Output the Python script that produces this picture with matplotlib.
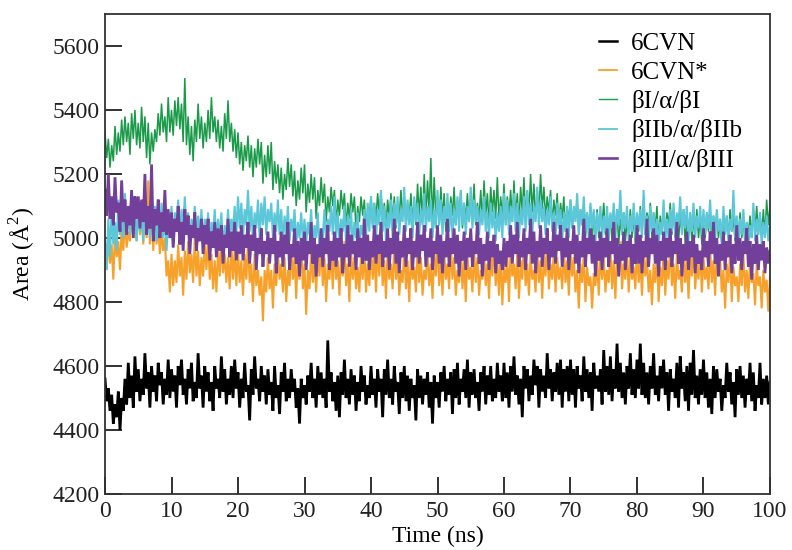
import numpy as np
import matplotlib
matplotlib.use("Agg")
import matplotlib.pyplot as plt

# area time series, one frame every 0.25 ns (0 .. 100 ns)
area_6cvn = [
    4560, 4490, 4530, 4460, 4510, 4420, 4480, 4440, 4520, 4400, 4500, 4460, 4560, 4480, 4610, 4500, 4570, 4470, 4630, 4520,
    4590, 4490, 4560, 4510, 4640, 4530, 4580, 4470, 4600, 4520, 4570, 4490, 4610, 4540, 4580, 4480, 4560, 4510, 4620, 4500,
    4590, 4520, 4570, 4470, 4600, 4540, 4620, 4510, 4560, 4480, 4590, 4530, 4610, 4490, 4550, 4500, 4640, 4530, 4570, 4470,
    4600, 4520, 4580, 4490, 4550, 4460, 4600, 4530, 4560, 4500, 4630, 4520, 4590, 4480, 4560, 4510, 4600, 4500, 4620, 4530,
    4580, 4470, 4560, 4500, 4610, 4520, 4540, 4430, 4590, 4510, 4630, 4530, 4560, 4490, 4600, 4520, 4570, 4480, 4590, 4510,
    4550, 4460, 4600, 4500, 4540, 4450, 4580, 4520, 4610, 4490, 4560, 4500, 4590, 4520, 4560, 4470, 4530, 4420, 4560, 4500,
    4540, 4480, 4570, 4520, 4610, 4500, 4560, 4470, 4600, 4510, 4580, 4500, 4560, 4470, 4680, 4520, 4580, 4490, 4550, 4460,
    4570, 4440, 4580, 4510, 4620, 4500, 4560, 4480, 4590, 4510, 4570, 4460, 4550, 4490, 4600, 4520, 4570, 4480, 4540, 4500,
    4600, 4510, 4560, 4470, 4590, 4520, 4560, 4440, 4590, 4510, 4620, 4500, 4560, 4480, 4600, 4520, 4550, 4450, 4580, 4500,
    4600, 4490, 4570, 4460, 4560, 4500, 4540, 4430, 4590, 4500, 4570, 4480, 4560, 4510, 4580, 4470, 4550, 4420, 4570, 4500,
    4550, 4470, 4580, 4520, 4600, 4490, 4560, 4510, 4580, 4450, 4590, 4500, 4610, 4480, 4560, 4520, 4590, 4500, 4620, 4470,
    4580, 4510, 4590, 4500, 4550, 4460, 4580, 4520, 4600, 4480, 4570, 4510, 4600, 4490, 4560, 4500, 4610, 4520, 4570, 4490,
    4610, 4500, 4580, 4470, 4600, 4520, 4630, 4510, 4570, 4480, 4560, 4440, 4600, 4530, 4590, 4490, 4570, 4510, 4620, 4540,
    4600, 4470, 4590, 4520, 4570, 4500, 4640, 4530, 4590, 4490, 4580, 4520, 4610, 4510, 4620, 4470, 4590, 4520, 4600, 4490,
    4620, 4510, 4590, 4470, 4600, 4530, 4570, 4490, 4630, 4520, 4590, 4500, 4580, 4460, 4610, 4530, 4570, 4520, 4590, 4480,
    4650, 4520, 4600, 4510, 4630, 4490, 4590, 4530, 4670, 4520, 4610, 4500, 4580, 4480, 4600, 4530, 4640, 4510, 4590, 4500,
    4620, 4530, 4670, 4510, 4610, 4500, 4580, 4480, 4600, 4530, 4640, 4510, 4570, 4490, 4600, 4530, 4620, 4510, 4580, 4460,
    4590, 4520, 4560, 4500, 4610, 4470, 4630, 4530, 4580, 4490, 4600, 4460, 4610, 4510, 4650, 4500, 4570, 4480, 4590, 4510,
    4620, 4500, 4580, 4470, 4560, 4450, 4600, 4500, 4590, 4520, 4560, 4460, 4540, 4500, 4610, 4520, 4580, 4480, 4550, 4440,
    4590, 4510, 4600, 4500, 4570, 4470, 4560, 4510, 4610, 4490, 4580, 4460, 4540, 4500, 4610, 4480, 4560, 4500, 4570, 4480,
    4550,
]

area_6cvn_star = [
    4960, 4900, 5010, 4920, 4980, 4870, 5020, 4940, 4990, 4900, 5030, 4960, 5060, 4970, 5020, 4990, 5080, 5000, 5050, 4990,
    5120, 5010, 5070, 4980, 5100, 5000, 5180, 4980, 5140, 4960, 5060, 4980, 5040, 4950, 5020, 4960, 5000, 4880, 4930, 4830,
    4950, 4850, 4930, 4860, 4980, 4880, 4940, 4820, 4960, 4870, 4990, 4890, 4950, 4860, 5000, 4880, 4960, 4850, 4940, 4880,
    4980, 4900, 5000, 4870, 4950, 4840, 4930, 4830, 4970, 4880, 4990, 4890, 4950, 4860, 4940, 4840, 4980, 4870, 4960, 4850,
    4960, 4860, 4930, 4820, 4950, 4870, 4990, 4860, 4920, 4800, 4950, 4850, 4900, 4820, 4880, 4740, 4900, 4830, 4940, 4840,
    4900, 4780, 4920, 4850, 4960, 4870, 4920, 4830, 4940, 4800, 4900, 4850, 4970, 4870, 4940, 4810, 4960, 4870, 4990, 4840,
    4920, 4760, 4900, 4840, 4960, 4860, 4930, 4830, 4950, 4880, 4990, 4850, 4940, 4800, 4920, 4870, 4960, 4840, 4980, 4870,
    4930, 4820, 4950, 4880, 4990, 4850, 4920, 4800, 4960, 4870, 4940, 4840, 4910, 4830, 4950, 4870, 4970, 4830, 4920, 4850,
    4970, 4870, 4950, 4830, 4980, 4880, 5000, 4850, 4930, 4810, 4960, 4870, 4920, 4840, 4980, 4870, 4940, 4820, 4900, 4860,
    4970, 4840, 4930, 4800, 4950, 4870, 4910, 4830, 4970, 4860, 4940, 4820, 4900, 4870, 4960, 4850, 4920, 4810, 4950, 4880,
    4990, 4850, 4930, 4820, 4960, 4870, 4920, 4840, 4980, 4870, 4940, 4820, 4900, 4860, 4970, 4840, 4930, 4800, 4950, 4870,
    4910, 4830, 4970, 4860, 4940, 4820, 4900, 4870, 4960, 4850, 4920, 4810, 4950, 4880, 4990, 4850, 4930, 4820, 4960, 4790,
    4910, 4860, 4940, 4800, 4970, 4880, 4920, 4840, 4960, 4810, 4930, 4870, 4990, 4850, 4920, 4820, 4950, 4870, 4900, 4830,
    4970, 4860, 4930, 4810, 4950, 4880, 4990, 4840, 4920, 4870, 4960, 4830, 4940, 4870, 4910, 4840, 4970, 4860, 4930, 4820,
    4960, 4880, 4940, 4830, 4900, 4780, 4920, 4860, 4950, 4800, 4910, 4850, 4880, 4780, 4890, 4850, 4930, 4820, 4960, 4870,
    4940, 4830, 4900, 4860, 4970, 4840, 4930, 4810, 4950, 4880, 4990, 4840, 4920, 4870, 4960, 4830, 4940, 4870, 4910, 4840,
    4970, 4860, 4930, 4820, 4960, 4880, 4940, 4830, 4900, 4790, 4920, 4860, 4950, 4800, 4910, 4850, 4960, 4820, 4930, 4870,
    4990, 4850, 4920, 4810, 4950, 4870, 4900, 4830, 4970, 4860, 4930, 4810, 4950, 4880, 4990, 4840, 4920, 4870, 4960, 4830,
    4940, 4870, 4910, 4840, 4970, 4860, 4930, 4820, 4960, 4880, 4940, 4830, 4900, 4780, 4920, 4860, 4950, 4800, 4910, 4850,
    4880, 4800, 4920, 4850, 4950, 4830, 4900, 4810, 4930, 4860, 4890, 4790, 4920, 4850, 4880, 4780, 4900, 4830, 4870, 4770,
    4880,
]

area_b1 = [
    5330, 5250, 5310, 5220, 5290, 5240, 5350, 5260, 5330, 5270, 5370, 5290, 5380, 5300, 5360, 5260, 5390, 5310, 5400, 5290,
    5360, 5280, 5410, 5300, 5380, 5250, 5360, 5230, 5330, 5270, 5340, 5300, 5390, 5320, 5420, 5330, 5380, 5300, 5440, 5330,
    5400, 5320, 5430, 5350, 5440, 5340, 5420, 5300, 5500, 5290, 5380, 5260, 5350, 5240, 5370, 5300, 5420, 5310, 5380, 5280,
    5360, 5300, 5400, 5310, 5440, 5330, 5380, 5300, 5370, 5280, 5350, 5270, 5390, 5310, 5430, 5300, 5360, 5270, 5340, 5250,
    5330, 5230, 5300, 5210, 5290, 5240, 5320, 5220, 5290, 5190, 5280, 5220, 5310, 5230, 5300, 5170, 5260, 5190, 5290, 5200,
    5300, 5150, 5240, 5170, 5230, 5140, 5220, 5120, 5200, 5150, 5250, 5160, 5230, 5130, 5210, 5100, 5180, 5120, 5220, 5140,
    5230, 5080, 5170, 5110, 5200, 5120, 5190, 5060, 5150, 5100, 5190, 5110, 5170, 5050, 5130, 5080, 5160, 5100, 5150, 5040,
    5120, 5070, 5150, 5090, 5140, 5030, 5110, 5060, 5140, 5080, 5130, 5020, 5100, 5050, 5130, 5070, 5120, 5010, 5090, 5060,
    5130, 5040, 5110, 5060, 5140, 5070, 5150, 5040, 5110, 5030, 5120, 5060, 5140, 5050, 5130, 5030, 5100, 5060, 5150, 5070,
    5130, 5040, 5110, 5060, 5140, 5050, 5120, 5040, 5170, 5070, 5160, 5050, 5200, 5060, 5180, 5080, 5250, 5040, 5190, 5060,
    5130, 5040, 5160, 5060, 5140, 5020, 5110, 5050, 5130, 5070, 5160, 5040, 5120, 5060, 5150, 5030, 5110, 5060, 5140, 5050,
    5120, 5070, 5170, 5040, 5110, 5060, 5150, 5050, 5180, 5070, 5140, 5040, 5160, 5080, 5150, 5060, 5190, 5050, 5130, 5060,
    5170, 5040, 5130, 5070, 5150, 5050, 5180, 5060, 5140, 5040, 5160, 5080, 5190, 5060, 5150, 5070, 5200, 5080, 5170, 5060,
    5150, 5070, 5200, 5090, 5160, 5060, 5130, 5080, 5150, 5040, 5120, 5070, 5140, 5030, 5110, 5060, 5130, 5020, 5100, 5050,
    5120, 5030, 5090, 5060, 5120, 5010, 5090, 5040, 5110, 5000, 5080, 5030, 5100, 4990, 5070, 5020, 5090, 5000, 5080, 5040,
    5110, 5010, 5080, 5030, 5070, 4990, 5070, 5020, 5090, 4980, 5060, 5010, 5080, 4990, 5050, 5020, 5090, 5000, 5070, 4980,
    5060, 5020, 5100, 5000, 5120, 5010, 5080, 5040, 5110, 5000, 5080, 5030, 5100, 4990, 5070, 5020, 5090, 5000, 5080, 5040,
    5110, 5010, 5080, 5030, 5070, 4990, 5070, 5020, 5090, 4980, 5060, 5010, 5080, 4990, 5050, 5020, 5090, 5000, 5070, 4980,
    5060, 5000, 5080, 5020, 5090, 4990, 5070, 5010, 5080, 5000, 5060, 4980, 5050, 5010, 5070, 5000, 5090, 5020, 5060, 4990,
    5050, 5010, 5080, 5000, 5060, 4980, 5050, 5010, 5070, 5000, 5090, 5020, 5100, 5010, 5080, 5000, 5090, 5010, 5120, 5040,
    5100,
]

area_b2b = [
    5000, 4900, 5060, 4940, 5100, 4980, 5050, 4960, 5120, 5010, 5080, 5000, 5140, 5030, 5090, 5010, 5150, 5040, 5070, 4990,
    5100, 5020, 5090, 4990, 5130, 5030, 5080, 5000, 5120, 5040, 5100, 4990, 5080, 5020, 5110, 5000, 5070, 4960, 5060, 5010,
    5100, 4980, 5080, 5020, 5120, 5000, 5090, 5030, 5130, 5010, 5080, 4970, 5060, 5020, 5100, 4990, 5070, 5010, 5090, 4980,
    5060, 5000, 5080, 4970, 5050, 5010, 5090, 4980, 5060, 5000, 5080, 4960, 5040, 5000, 5090, 4990, 5060, 5020, 5100, 5010,
    5130, 5030, 5110, 5000, 5090, 5040, 5150, 5020, 5100, 4990, 5080, 5030, 5120, 5000, 5110, 5040, 5130, 5010, 5090, 5050,
    5110, 5000, 5080, 5020, 5120, 5010, 5090, 4980, 5070, 5010, 5100, 4990, 5060, 5020, 5090, 4970, 5050, 5000, 5080, 4990,
    5060, 4980, 5050, 5010, 5090, 4970, 5040, 5000, 5080, 4960, 5030, 5000, 5090, 4990, 5060, 5020, 5100, 5010, 5130, 5000,
    5080, 4990, 5060, 5020, 5100, 4980, 5070, 5010, 5090, 4970, 5050, 5000, 5080, 4960, 5040, 5010, 5090, 5000, 5110, 5020,
    5130, 5030, 5110, 5000, 5090, 5040, 5150, 5020, 5100, 4990, 5080, 5030, 5120, 5000, 5110, 5040, 5130, 5010, 5090, 5050,
    5160, 5020, 5120, 5040, 5100, 5000, 5130, 5050, 5110, 5010, 5090, 5040, 5140, 5020, 5100, 5050, 5120, 5000, 5090, 5030,
    5150, 5040, 5120, 5010, 5100, 5050, 5140, 5020, 5110, 5000, 5090, 5040, 5130, 5020, 5150, 5040, 5110, 5010, 5100, 5050,
    5160, 5030, 5120, 5050, 5100, 5010, 5090, 5040, 5130, 5020, 5080, 5000, 5110, 5030, 5090, 4990, 5080, 5020, 5100, 5000,
    5140, 5040, 5120, 5010, 5100, 5050, 5140, 5020, 5110, 5000, 5090, 5040, 5130, 5020, 5150, 5040, 5110, 5010, 5100, 5050,
    5160, 5030, 5120, 5050, 5100, 5010, 5090, 5040, 5130, 5020, 5080, 5000, 5110, 5030, 5090, 4990, 5080, 5020, 5100, 5000,
    5120, 5030, 5100, 5050, 5140, 5010, 5090, 5040, 5130, 5020, 5080, 5000, 5110, 5030, 5090, 4990, 5080, 5020, 5100, 5000,
    5070, 5020, 5100, 4990, 5080, 5030, 5110, 5000, 5090, 5040, 5150, 5010, 5080, 5030, 5100, 4990, 5070, 5020, 5110, 5000,
    5080, 5030, 5090, 5000, 5150, 5010, 5070, 4980, 5100, 5020, 5080, 5000, 5060, 4970, 5050, 5010, 5120, 4990, 5060, 5000,
    5090, 5020, 5110, 5000, 5080, 5040, 5130, 5010, 5090, 5030, 5100, 4990, 5080, 5020, 5110, 5000, 5070, 5030, 5100, 5010,
    5090, 5010, 5080, 5030, 5120, 5000, 5070, 4990, 5090, 5020, 5060, 4980, 5100, 5010, 5070, 4990, 5060, 5020, 5150, 5000,
    5070, 4980, 5060, 5010, 5090, 4990, 5050, 4970, 5040, 5000, 5110, 4990, 5060, 5010, 5080, 4980, 5050, 5000, 5070, 4990,
    5040,
]

area_b3 = [
    5150, 5070, 5200, 5060, 5130, 5040, 5190, 5080, 5110, 5020, 5180, 5050, 5120, 5010, 5100, 5040, 5150, 5000, 5130, 5060,
    5130, 5030, 5120, 5050, 5200, 5010, 5100, 5030, 5230, 4990, 5090, 5040, 5120, 5000, 5080, 5020, 5150, 5010, 5090, 5000,
    5080, 4970, 5060, 5020, 5100, 4980, 5050, 4960, 5090, 5010, 5070, 4950, 5040, 5000, 5080, 4960, 5030, 4990, 5060, 4950,
    5040, 4980, 5060, 4930, 5020, 4970, 5050, 4940, 5030, 4960, 5040, 4920, 5010, 4970, 5060, 4940, 5020, 4960, 5050, 4930,
    5020, 4950, 5040, 4930, 5010, 4970, 5050, 4920, 5010, 4960, 5040, 4900, 5000, 4950, 5030, 4910, 4990, 4950, 5020, 4920,
    5000, 4950, 5040, 4890, 4990, 4940, 5020, 4910, 5010, 4950, 5050, 4900, 4980, 4940, 5030, 4920, 4990, 4880, 5000, 4930,
    5020, 4900, 4990, 4950, 5050, 4920, 5000, 4880, 4980, 4940, 5030, 4910, 5000, 4950, 5040, 4900, 4990, 4930, 5020, 4910,
    5000, 4940, 5030, 4890, 4980, 4940, 5040, 4910, 5010, 4950, 4990, 4900, 5030, 4940, 5000, 4920, 5060, 4930, 5010, 4900,
    4990, 4940, 5040, 4920, 5010, 4950, 5050, 4910, 4990, 4940, 5030, 4900, 5000, 4950, 5060, 4920, 5020, 4890, 4990, 4940,
    5040, 4910, 5000, 4950, 5030, 4900, 4990, 4940, 5050, 4920, 5010, 4960, 5040, 4910, 5000, 4940, 5030, 4900, 4990, 4950,
    5040, 4920, 5010, 4890, 4990, 4940, 5060, 4910, 5000, 4950, 5030, 4920, 5010, 4880, 4990, 4930, 5020, 4900, 5000, 4940,
    5030, 4910, 4990, 4950, 5050, 4920, 5000, 4880, 4980, 4930, 5020, 4900, 4990, 4940, 5010, 4890, 4980, 4920, 4960, 4900,
    5000, 4910, 4990, 4940, 5040, 4920, 5010, 4950, 5050, 4910, 4990, 4940, 5030, 4900, 5000, 4950, 5060, 4920, 5020, 4890,
    4990, 4940, 5040, 4910, 5000, 4950, 5030, 4900, 4990, 4940, 5050, 4920, 5010, 4960, 5040, 4910, 5000, 4940, 5030, 4900,
    4990, 4950, 5040, 4920, 5010, 4890, 4990, 4940, 5060, 4910, 5000, 4950, 5030, 4920, 5010, 4880, 4990, 4930, 5020, 4900,
    5000, 4940, 5030, 4910, 4990, 4950, 5050, 4920, 5000, 4880, 4980, 4930, 5020, 4900, 4990, 4940, 5010, 4890, 4980, 4920,
    5040, 4920, 5010, 4890, 4990, 4940, 5060, 4910, 5000, 4950, 5030, 4920, 5010, 4880, 4990, 4930, 5020, 4900, 5000, 4940,
    5030, 4910, 4990, 4950, 5050, 4920, 5000, 4880, 4980, 4930, 5020, 4900, 4990, 4940, 5010, 4890, 4980, 4920, 4960, 4900,
    5030, 4940, 4990, 4910, 5020, 4950, 5050, 4920, 5000, 4880, 4980, 4930, 5020, 4900, 4990, 4940, 5010, 4890, 4980, 4920,
    5040, 4930, 5000, 4900, 4990, 4950, 5030, 4910, 4990, 4870, 4980, 4920, 5010, 4900, 4980, 4930, 4990, 4890, 4970, 4920,
    4960,
]

series = [area_6cvn, area_6cvn_star, area_b1, area_b2b, area_b3]
labels = ["6CVN", "6CVN*", "βI/α/βI", "βIIb/α/βIIb", "βIII/α/βIII"]
colors = ["#000000", "#f7a12b", "#1b9a4a", "#5bc7d8", "#72409b"]
widths = [2.0, 1.5, 1.1, 1.5, 2.0]
legend_widths = [1.8, 1.3, 1.0, 1.3, 1.9]

x_ticks = [0, 10, 20, 30, 40, 50, 60, 70, 80, 90, 100]
y_ticks = [4200, 4400, 4600, 4800, 5000, 5200, 5400, 5600]

plt.rcParams['font.family'] = ['Liberation Serif', 'DejaVu Serif']
plt.rcParams['mathtext.fontset'] = 'custom'
plt.rcParams['mathtext.rm'] = 'Liberation Serif'

fig = plt.figure(figsize=(7.92, 5.5), dpi=100)
ax = fig.add_axes([0.1326, 0.1018, 0.8396, 0.8727])

for vals, lab, col, lw in zip(series, labels, colors, widths):
    t = np.linspace(0, 100, len(vals))
    ax.plot(t, vals, color=col, lw=lw, label=lab, solid_joinstyle='miter')

ax.set_xlim(0, 100)
ax.set_ylim(4200, 5700)
ax.set_xticks(x_ticks)
ax.set_yticks(y_ticks)
ax.tick_params(direction='in', length=12, width=1.3, labelsize=17, colors='#222222',
               top=False, right=False, pad=4)
ax.tick_params(axis='x', pad=5)
for sp in ax.spines.values():
    sp.set_linewidth(1.3)
    sp.set_color('#333333')

ax.set_xlabel('Time (ns)', fontsize=17, labelpad=3)
ax.set_ylabel('Area (Å$^{2}$)', fontsize=17, labelpad=10)

leg = ax.legend(loc='upper left', bbox_to_anchor=(586 / 792, 1 - 20 / 550),
                bbox_transform=fig.transFigure, frameon=False, fontsize=18,
                handlelength=0.75, handletextpad=0.55, labelspacing=0.25,
                borderpad=0)
for h, lw in zip(leg.get_lines(), legend_widths):
    h.set_linewidth(lw)

fig.savefig('out.png', dpi=100)
